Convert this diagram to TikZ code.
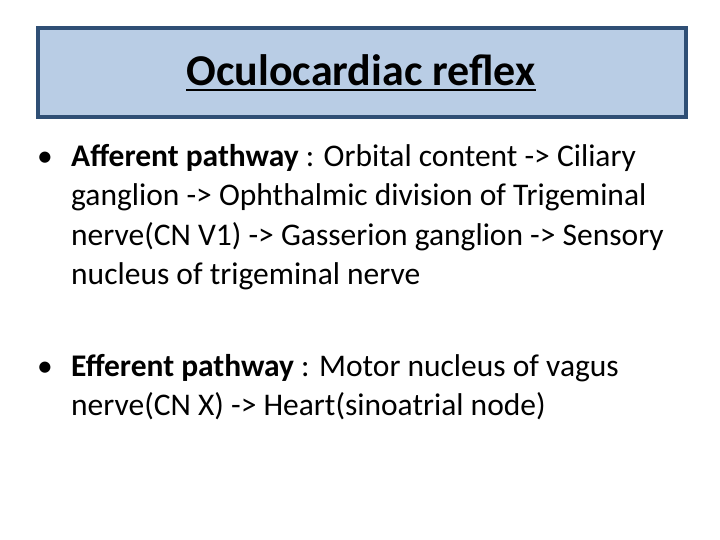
\documentclass[tikz,border=0pt]{standalone}
\usepackage{fontspec}
\setmainfont{Carlito}
\definecolor{boxfill}{HTML}{B9CDE5}
\definecolor{boxline}{HTML}{2F4F75}
\begin{document}
\begin{tikzpicture}[x=1pt,y=-1pt,
  bodytext/.style={anchor=base west,inner sep=0pt,font=\fontsize{31.5}{39}\selectfont},
  bulletmark/.style={anchor=base west,inner sep=0pt,font=\fontsize{31.5}{39}\selectfont}]
\useasboundingbox (0,0) rectangle (720,540);
\fill[white] (0,0) rectangle (720,540);
\node[draw=boxline,line width=3.5pt,fill=boxfill,minimum width=648,minimum height=89,inner sep=0pt] (title) at (362,72.5) {};
\node[inner sep=0pt,anchor=base,font=\fontsize{44}{48}\selectfont\bfseries] (tt) at (361,86) {Oculocardiac reflex};
\draw[line width=1.5pt] ([yshift=-4pt]tt.base west) -- ([yshift=-4pt]tt.base east);
\node[bulletmark] (b1) at (37,167) {•};
\node[bodytext] (l1) at (71,167) {\textbf{Afferent pathway} : Orbital content -> Ciliary};
\node[bodytext] (l2) at (71,206) {ganglion -> Ophthalmic division of Trigeminal};
\node[bodytext] (l3) at (71,245) {nerve(CN V1) -> Gasserion ganglion -> Sensory};
\node[bodytext] (l4) at (71,284) {nucleus of trigeminal nerve};
\node[bulletmark] (b2) at (37,376) {•};
\node[bodytext] (m1) at (71,376) {\textbf{Efferent pathway} : Motor nucleus of vagus};
\node[bodytext] (m2) at (71,415) {nerve(CN X) -> Heart(sinoatrial node)};
\end{tikzpicture}
\end{document}
